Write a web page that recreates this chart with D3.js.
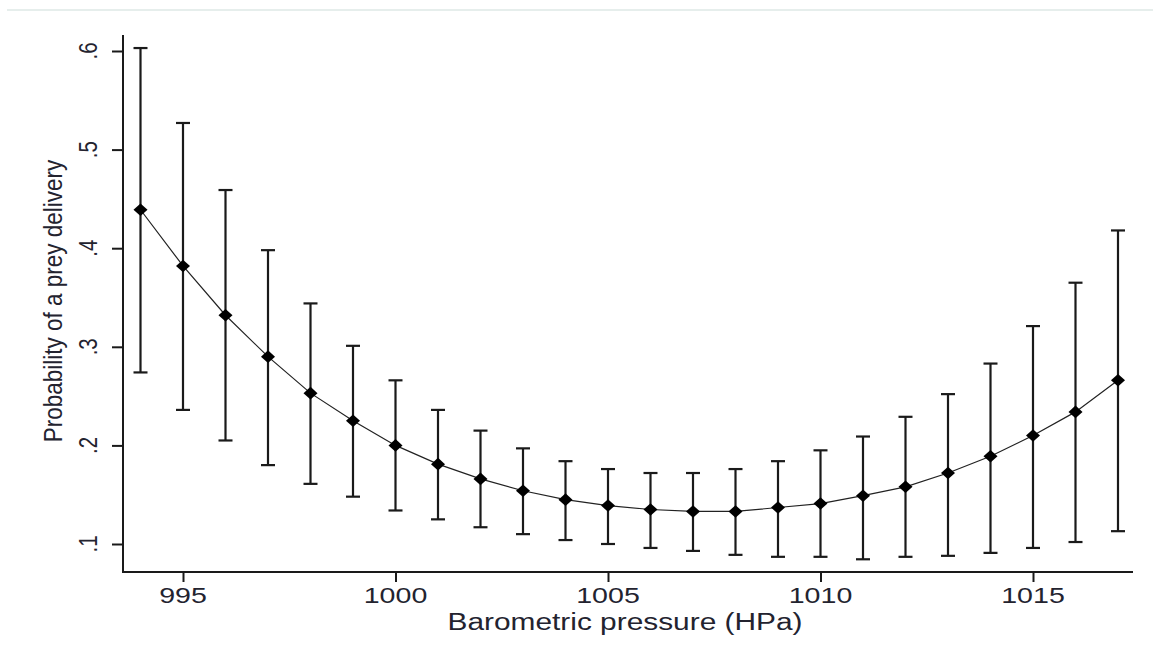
<!DOCTYPE html>
<html>
<head>
<meta charset="utf-8">
<script src="https://cdn.jsdelivr.net/npm/d3@7"></script>
<style>
  html, body { margin: 0; padding: 0; background: #ffffff; }
  svg { display: block; }
  text { font-family: Arial, "Liberation Sans", sans-serif; }
</style>
</head>
<body>
<svg id="chart" width="1153" height="654"></svg>
<script>
// ---- data ----
const pressure = [994, 995, 996, 997, 998, 999, 1000, 1001, 1002, 1003, 1004, 1005,
                  1006, 1007, 1008, 1009, 1010, 1011, 1012, 1013, 1014, 1015, 1016, 1017];
const probability = [0.439, 0.382, 0.332, 0.290, 0.253, 0.225, 0.200, 0.181, 0.166, 0.154, 0.145, 0.139,
                     0.135, 0.133, 0.133, 0.137, 0.141, 0.149, 0.158, 0.172, 0.189, 0.210, 0.234, 0.266];
const upperCI = [0.603, 0.527, 0.459, 0.398, 0.344, 0.301, 0.266, 0.236, 0.215, 0.197, 0.184, 0.176,
                 0.172, 0.172, 0.176, 0.184, 0.195, 0.209, 0.229, 0.252, 0.283, 0.321, 0.365, 0.418];
const lowerCI = [0.274, 0.236, 0.205, 0.180, 0.161, 0.148, 0.134, 0.125, 0.117, 0.110, 0.104, 0.100,
                 0.096, 0.093, 0.089, 0.087, 0.087, 0.0845, 0.087, 0.088, 0.091, 0.096, 0.102, 0.113];
const xTicks = [995, 1000, 1005, 1010, 1015];
const yTicks = [0.1, 0.2, 0.3, 0.4, 0.5, 0.6];
const yTickLabels = [".1", ".2", ".3", ".4", ".5", ".6"];
const xTitle = "Barometric pressure (HPa)";
const yTitle = "Probability of a prey delivery";

// ---- layout ----
const svg = d3.select("#chart");
const ink = "#1a1a1a";
const textCol = "#23232f";

const x = d3.scaleLinear().domain([995, 1015]).range([183, 1033]);
const y = d3.scaleLinear().domain([0.1, 0.6]).range([544, 51]);

const axisLeftX = 123, axisBottomY = 572;
const plotTop = 35, plotRight = 1133;

// faint top rule
svg.append("rect").attr("x", 7).attr("y", 9).attr("width", 1146).attr("height", 2)
  .attr("fill", "#e6eeec");

// axes lines
svg.append("line").attr("x1", axisLeftX).attr("x2", axisLeftX)
  .attr("y1", plotTop).attr("y2", axisBottomY + 1)
  .attr("stroke", ink).attr("stroke-width", 2);
svg.append("line").attr("x1", axisLeftX - 1).attr("x2", plotRight)
  .attr("y1", axisBottomY).attr("y2", axisBottomY)
  .attr("stroke", ink).attr("stroke-width", 2);

// x axis ticks via d3 axis
const gx = svg.append("g").attr("transform", `translate(0,${axisBottomY})`)
  .call(d3.axisBottom(x).tickValues(xTicks).tickSize(10).tickSizeOuter(0).tickFormat(""));
gx.select(".domain").remove();
gx.selectAll(".tick line").attr("stroke", ink).attr("stroke-width", 2);

// y axis ticks via d3 axis
const gy = svg.append("g").attr("transform", `translate(${axisLeftX},0)`)
  .call(d3.axisLeft(y).tickValues(yTicks).tickSize(11).tickSizeOuter(0).tickFormat(""));
gy.select(".domain").remove();
gy.selectAll(".tick line").attr("stroke", ink).attr("stroke-width", 2);

// x tick labels (horizontally stretched like the reference)
svg.append("g").selectAll("text").data(xTicks).join("text")
  .attr("transform", d => `translate(${x(d)},603) scale(1.27,1)`)
  .attr("text-anchor", "middle")
  .attr("font-size", 22.5)
  .attr("fill", textCol)
  .text(d => d);

// y tick labels (rotated)
svg.append("g").selectAll("text").data(yTicks).join("text")
  .attr("transform", d => `translate(97,${y(d)}) rotate(-90) scale(1,1.3)`)
  .attr("text-anchor", "middle")
  .attr("font-size", 20.5)
  .attr("fill", textCol)
  .text((d, i) => yTickLabels[i]);

// axis titles
svg.append("text")
  .attr("transform", "translate(625,630) scale(1.27,1)")
  .attr("text-anchor", "middle")
  .attr("font-size", 23.5)
  .attr("fill", textCol)
  .text(xTitle);

svg.append("text")
  .attr("transform", "translate(62,301) rotate(-90) scale(1,1.15)")
  .attr("text-anchor", "middle")
  .attr("font-size", 22.5)
  .attr("fill", textCol)
  .text(yTitle);

// data table
const rows = pressure.map((p, i) => ({ p, v: probability[i], lo: lowerCI[i], hi: upperCI[i] }));

// error bars
const eb = svg.append("g").attr("stroke", ink).attr("stroke-width", 2.2).attr("fill", "none");
eb.selectAll("line.v").data(rows).join("line").attr("class", "v")
  .attr("x1", d => x(d.p)).attr("x2", d => x(d.p))
  .attr("y1", d => y(d.hi)).attr("y2", d => y(d.lo));
const capW = 7;
eb.selectAll("line.hi").data(rows).join("line").attr("class", "hi")
  .attr("x1", d => x(d.p) - capW).attr("x2", d => x(d.p) + capW)
  .attr("y1", d => y(d.hi)).attr("y2", d => y(d.hi));
eb.selectAll("line.lo").data(rows).join("line").attr("class", "lo")
  .attr("x1", d => x(d.p) - capW).attr("x2", d => x(d.p) + capW)
  .attr("y1", d => y(d.lo)).attr("y2", d => y(d.lo));

// connecting line
svg.append("path").datum(rows)
  .attr("fill", "none").attr("stroke", "#222").attr("stroke-width", 1.2)
  .attr("d", d3.line().x(d => x(d.p)).y(d => y(d.v)));

// diamond markers
svg.append("g").selectAll("path").data(rows).join("path")
  .attr("transform", d => `translate(${x(d.p)},${y(d.v)})`)
  .attr("d", "M0,-6.3 L7,0 L0,6.3 L-7,0 Z")
  .attr("fill", "#000");
</script>
</body>
</html>
